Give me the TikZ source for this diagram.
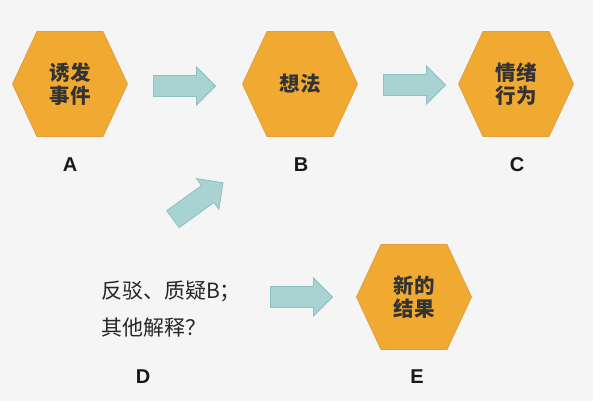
\documentclass[tikz,border=0pt]{standalone}
\usepackage{fontspec}
\setmainfont{Liberation Sans}
\newfontfamily\cjk{Noto Sans CJK SC}
\definecolor{bgc}{HTML}{F5F5F6}
\definecolor{hexfill}{HTML}{F0AA32}
\definecolor{hexline}{HTML}{E0A040}
\definecolor{arrfill}{HTML}{A9D3D3}
\definecolor{arrline}{HTML}{8DC0C2}
\tikzset{
  hexstyle/.style={fill=hexfill,draw=hexline,line width=0.8pt},
  arrstyle/.style={fill=arrfill,draw=arrline,line width=0.8pt},
  hextext/.style={align=center,font=\cjk\bfseries\fontsize{20.5}{23}\selectfont,text=black!80,inner sep=0pt},
  lbl/.style={font=\bfseries\fontsize{20}{20}\selectfont,text=black!90,inner sep=0pt},
  dtext/.style={align=left,font=\cjk\fontsize{21}{37}\selectfont,text=black!85,inner sep=0pt,anchor=west}
}
\newcommand\hexshape[1]{\filldraw[hexstyle,shift={(#1)}] (-57.5,0) -- (-33,-52.5) -- (33,-52.5) -- (57.5,0) -- (33,52.5) -- (-33,52.5) -- cycle;}
\newcommand\blkarrow[2]{\filldraw[arrstyle,shift={(#1)},rotate=#2] (-31,-10.5) -- (12,-10.5) -- (12,-19) -- (31,0) -- (12,19) -- (12,10.5) -- (-31,10.5) -- cycle;}
\begin{document}
\begin{tikzpicture}[x=1pt,y=-1pt]
\fill[bgc] (0,0) rectangle (593,401);
\useasboundingbox (0,0) rectangle (593,401);
% hexagon centres
\coordinate (cA) at (70,84);
\coordinate (cB) at (300,84);
\coordinate (cC) at (516,84);
\coordinate (cE) at (414,297);
\hexshape{cA}
\hexshape{cB}
\hexshape{cC}
\hexshape{cE}
\node[hextext] (A) at (cA) {诱发\\事件};
\node[hextext] (B) at (cB) {想法};
\node[hextext] (C) at (cC) {情绪\\行为};
\node[hextext] (E) at (cE) {新的\\结果};
\node[dtext] (D) at (101,309) {反驳、质疑B；\\其他解释？};
% labels
\node[lbl] (lA) at (70,165) {A};
\node[lbl] (lB) at (301,165) {B};
\node[lbl] (lC) at (517,165) {C};
\node[lbl] (lD) at (143,377) {D};
\node[lbl] (lE) at (417,377) {E};
% block arrows
\coordinate (aAB) at (184.5,86);
\coordinate (aBC) at (414.5,85);
\coordinate (aDB) at (198,201);
\coordinate (aDE) at (301.5,297);
\blkarrow{aAB}{0}
\blkarrow{aBC}{0}
\blkarrow{aDB}{36}
\blkarrow{aDE}{0}
\end{tikzpicture}
\end{document}
